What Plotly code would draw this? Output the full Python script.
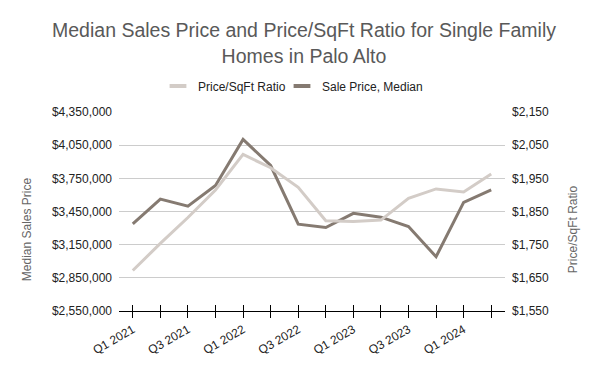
import plotly.graph_objects as go

quarters = ["Q1 2021", "Q2 2021", "Q3 2021", "Q4 2021",
            "Q1 2022", "Q2 2022", "Q3 2022", "Q4 2022",
            "Q1 2023", "Q2 2023", "Q3 2023", "Q4 2023",
            "Q1 2024", "Q2 2024"]
shown_labels = ["Q1 2021", "", "Q3 2021", "", "Q1 2022", "", "Q3 2022", "",
                "Q1 2023", "", "Q3 2023", "", "Q1 2024", ""]
sale_price_median = [3338000, 3562000, 3498000, 3685000, 4102000, 3866000, 3335000,
                     3305000, 3433000, 3399000, 3314000, 3041000, 3532000, 3646000]
price_sqft_ratio = [1672, 1754, 1832, 1915, 2022, 1982, 1923,
                    1822, 1820, 1824, 1890, 1918, 1909, 1963]
left_ticks = [2550000, 2850000, 3150000, 3450000, 3750000, 4050000, 4350000]
right_ticks = [1550, 1650, 1750, 1850, 1950, 2050, 2150]
left_tick_text = [f"${v:,}" for v in left_ticks]
right_tick_text = [f"${v:,}" for v in right_ticks]

DARK = "#857a71"
LIGHT = "#d3ccc7"
FONT = "Liberation Sans, Arial, sans-serif"

# the page body adds an 8px offset; the figure is sized to fill the rest
W, H = 592, 363
L, R, T, B = 111, 95, 104, 60.3

fig = go.Figure()
fig.add_trace(go.Scatter(x=quarters, y=price_sqft_ratio, name="Price/SqFt Ratio",
                         mode="lines", line=dict(color=LIGHT, width=3),
                         showlegend=False, xaxis="x", yaxis="y2"))
fig.add_trace(go.Scatter(x=quarters, y=sale_price_median, name="Sale Price, Median",
                         mode="lines", line=dict(color=DARK, width=3),
                         showlegend=False, xaxis="x", yaxis="y"))
# legend swatches (short thick bars like the original), one legend each
for nm, col, lg in [("Price/SqFt Ratio", LIGHT, "legend"),
                    ("Sale Price, Median", DARK, "legend2")]:
    fig.add_trace(go.Scatter(x=[None], y=[None], name=nm, mode="markers",
                             marker=dict(symbol="line-ew-open", size=12, color=col,
                                         line=dict(color=col, width=4)),
                             showlegend=True, hoverinfo="skip", legend=lg))
# carrier for the inward half of the crossing tick marks
fig.add_trace(go.Scatter(x=quarters, y=sale_price_median, mode="lines",
                         line=dict(color="rgba(0,0,0,0)", width=0),
                         showlegend=False, hoverinfo="skip",
                         xaxis="x2", yaxis="y"))

plot_w = W - L - R
plot_h = H - T - B

legend_common = dict(orientation="h", xanchor="left", y=1 - 78 / H, yanchor="middle",
                     xref="container", yref="container",
                     font=dict(size=12, color="#222222"),
                     itemwidth=30, itemsizing="trace", bgcolor="rgba(0,0,0,0)")

fig.update_layout(
    width=W, height=H,
    margin=dict(l=L, r=R, t=T, b=B, autoexpand=False),
    paper_bgcolor="white", plot_bgcolor="white",
    font=dict(family=FONT, size=12, color="#222222"),
    title=dict(text="Median Sales Price and Price/SqFt Ratio for Single Family<br>Homes in Palo Alto",
               x=0.5, xanchor="center", y=0.919, yanchor="top", yref="container",
               font=dict(family=FONT, size=19.5, color="#595959")),
    legend=dict(x=150 / W, **legend_common),
    legend2=dict(x=274 / W, **legend_common),
    xaxis=dict(type="category", categoryorder="array", categoryarray=quarters,
               range=[-0.5, 13.5], tickvals=quarters, ticktext=shown_labels,
               tickangle=-30, showgrid=False, showline=True, linecolor="#000000",
               linewidth=1, ticks="outside", ticklen=6, tickcolor="#000000",
               tickfont=dict(size=12, color="#222222"), zeroline=False),
    xaxis2=dict(type="category", categoryorder="array", categoryarray=quarters,
                range=[-0.5, 13.5], tickvals=quarters, overlaying="x", anchor="y",
                side="bottom", showticklabels=False, showgrid=False, showline=False,
                ticks="inside", ticklen=6, tickcolor="#000000", zeroline=False),
    yaxis=dict(range=[2550000, 4350000], tickvals=left_ticks, ticktext=left_tick_text,
               showgrid=True, gridcolor="#cccccc", gridwidth=1,
               zeroline=False, showline=False, ticks="", ticklabelstandoff=6,
               tickfont=dict(size=12, color="#222222")),
    yaxis2=dict(range=[1550, 2150], tickvals=right_ticks, ticktext=right_tick_text,
                overlaying="y", side="right", showgrid=False,
                zeroline=False, showline=False, ticks="", ticklabelstandoff=6,
                tickfont=dict(size=12, color="#222222")),
    annotations=[
        dict(text="Median Sales Price", textangle=-90, xref="paper", yref="paper",
             x=(19 - L) / plot_w, y=(H - B - 221) / plot_h, xanchor="center",
             yanchor="middle", showarrow=False, font=dict(size=12, color="#666666")),
        dict(text="Price/SqFt Ratio", textangle=-90, xref="paper", yref="paper",
             x=(565 - L) / plot_w, y=(H - B - 221) / plot_h, xanchor="center",
             yanchor="middle", showarrow=False, font=dict(size=12, color="#666666")),
    ],
    showlegend=True,
)

fig.write_html("out.html")
